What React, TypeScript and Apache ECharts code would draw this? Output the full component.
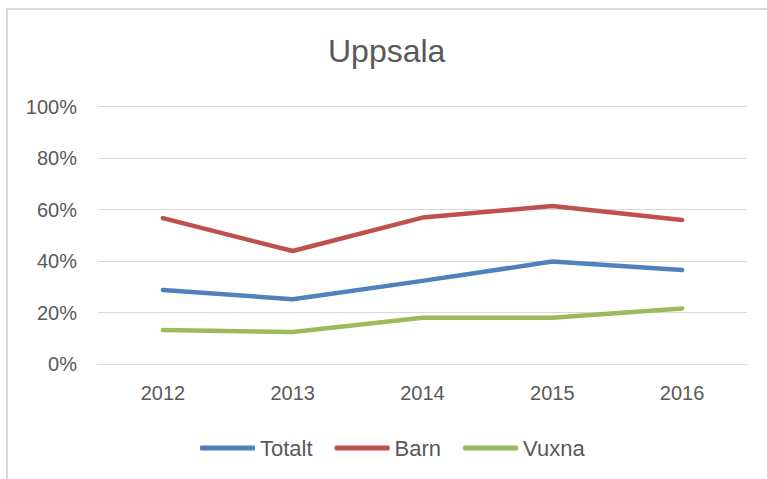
import React, { useEffect, useRef } from "react";
import * as echarts from "echarts";

const title = "Uppsala";
const years = ["2012", "2013", "2014", "2015", "2016"];
const totalt = [28.8, 25.2, 32.3, 39.8, 36.5];
const barn = [56.7, 43.9, 56.9, 61.4, 56.0];
const vuxna = [13.2, 12.4, 18.0, 18.0, 21.6];
const yTicks = [0, 20, 40, 60, 80, 100];

const FONT = "'Liberation Sans', Arial, sans-serif";
const TEXT = "#595959";

export default function App() {
  const ref = useRef<HTMLDivElement>(null);
  useEffect(() => {
    if (!ref.current) return;
    const chart = echarts.init(ref.current, undefined, { renderer: "svg" });
    const mk = (name: string, data: number[], color: string) => ({
      name,
      type: "line",
      data,
      showSymbol: false,
      symbol: "none",
      color,
      lineStyle: { color, width: 4.5, cap: "round", join: "round" },
    });
    chart.setOption({
      animation: false,
      backgroundColor: "#ffffff",
      textStyle: { fontFamily: FONT },
      title: {
        text: title,
        left: 328,
        top: 35,
        padding: 0,
        textStyle: { fontFamily: FONT, fontSize: 32, fontWeight: "normal", color: TEXT },
      },
      legend: {
        data: ["Totalt", "Barn", "Vuxna"],
        left: 200,
        top: 437,
        padding: 0,
        itemGap: 22,
        itemWidth: 55,
        itemHeight: 5,
        icon: "roundRect",
        textStyle: { fontFamily: FONT, fontSize: 22, color: TEXT },
      },
      grid: { left: 98, right: 20, top: 106.7, bottom: 115 },
      xAxis: {
        type: "category",
        data: years,
        boundaryGap: true,
        axisLine: { show: true, lineStyle: { color: "#d9d9d9", width: 1 } },
        axisTick: { show: false },
        axisLabel: { margin: 19, fontSize: 20, color: TEXT, fontFamily: FONT },
      },
      yAxis: {
        type: "value",
        min: yTicks[0],
        max: yTicks[yTicks.length - 1],
        interval: 20,
        axisLine: { show: false },
        axisTick: { show: false },
        splitLine: { lineStyle: { color: "#d9d9d9", width: 1 } },
        axisLabel: { margin: 21, fontSize: 20, color: TEXT, fontFamily: FONT, formatter: "{value}%" },
      },
      graphic: [
        { type: "line", shape: { x1: 7, y1: 9, x2: 7, y2: 479 }, style: { stroke: "#d9d9d9", lineWidth: 2 } },
        { type: "line", shape: { x1: 6, y1: 9, x2: 767, y2: 9 }, style: { stroke: "#d9d9d9", lineWidth: 2 } },
      ],
      series: [
        mk("Totalt", totalt, "#4F81BD"),
        mk("Barn", barn, "#C0504D"),
        mk("Vuxna", vuxna, "#9BBB59"),
      ],
    });
    return () => chart.dispose();
  }, []);
  return (
    <div
      ref={ref}
      style={{ position: "fixed", left: 0, top: 0, width: 767, height: 479, background: "#fff" }}
    />
  );
}
